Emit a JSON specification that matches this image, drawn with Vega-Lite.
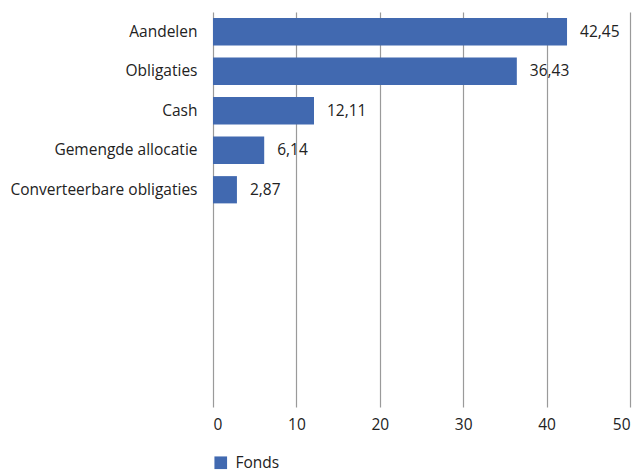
{
  "$schema": "https://vega.github.io/schema/vega-lite/v6.json",
  "autosize": {"type": "none"},
  "width": 417,
  "height": 395,
  "padding": {"left": 213, "top": 12, "right": 11, "bottom": 65},
  "background": "white",
  "data": {
    "values": [
      {"categorie": "Aandelen", "waarde": 42.45, "reeks": "Fonds"},
      {"categorie": "Obligaties", "waarde": 36.43, "reeks": "Fonds"},
      {"categorie": "Cash", "waarde": 12.11, "reeks": "Fonds"},
      {"categorie": "Gemengde allocatie", "waarde": 6.14, "reeks": "Fonds"},
      {"categorie": "Converteerbare obligaties", "waarde": 2.87, "reeks": "Fonds"}
    ]
  },
  "encoding": {
    "y": {
      "field": "categorie",
      "type": "nominal",
      "sort": null,
      "scale": {
        "domain": ["Aandelen", "Obligaties", "Cash", "Gemengde allocatie", "Converteerbare obligaties", " ", "  ", "   ", "    ", "     "],
        "paddingInner": 0.31,
        "paddingOuter": 0.155
      },
      "axis": {
        "title": null,
        "ticks": false,
        "domain": false,
        "labelPadding": 16,
        "labelLimit": 300,
        "labelFontSize": 15.5,
        "labelFont": "Open Sans",
        "labelColor": "#222222"
      }
    },
    "x": {
      "field": "waarde",
      "type": "quantitative",
      "scale": {"domain": [0, 50], "nice": false},
      "axis": {
        "title": null,
        "values": [0, 10, 20, 30, 40, 50],
        "grid": true,
        "gridColor": "#9a9a9a",
        "gridWidth": 1.2,
        "domain": false,
        "ticks": false,
        "labelPadding": 10,
        "labelFontSize": 15.5,
        "labelFont": "Open Sans",
        "labelColor": "#222222",
        "format": "d"
      }
    }
  },
  "layer": [
    {
      "mark": {"type": "bar"},
      "encoding": {
        "color": {
          "field": "reeks",
          "type": "nominal",
          "scale": {"range": ["#4169B0"]},
          "legend": {
            "title": null,
            "orient": "none",
            "legendX": 0,
            "legendY": 443,
            "symbolType": "square",
            "symbolSize": 160,
            "symbolStrokeWidth": 0,
            "labelFontSize": 15.5,
            "labelFont": "Open Sans",
            "labelColor": "#222222",
            "labelOffset": 7
          }
        }
      }
    },
    {
      "mark": {"type": "text", "align": "left", "baseline": "middle", "dx": 13, "fontSize": 15.5, "font": "Open Sans", "color": "#222222"},
      "encoding": {
        "text": {"field": "waarde", "type": "quantitative", "format": ".2f"}
      }
    }
  ],
  "config": {
    "view": {"stroke": null},
    "locale": {
      "number": {"decimal": ",", "thousands": ".", "grouping": [3], "currency": ["€", ""]}
    }
  }
}
